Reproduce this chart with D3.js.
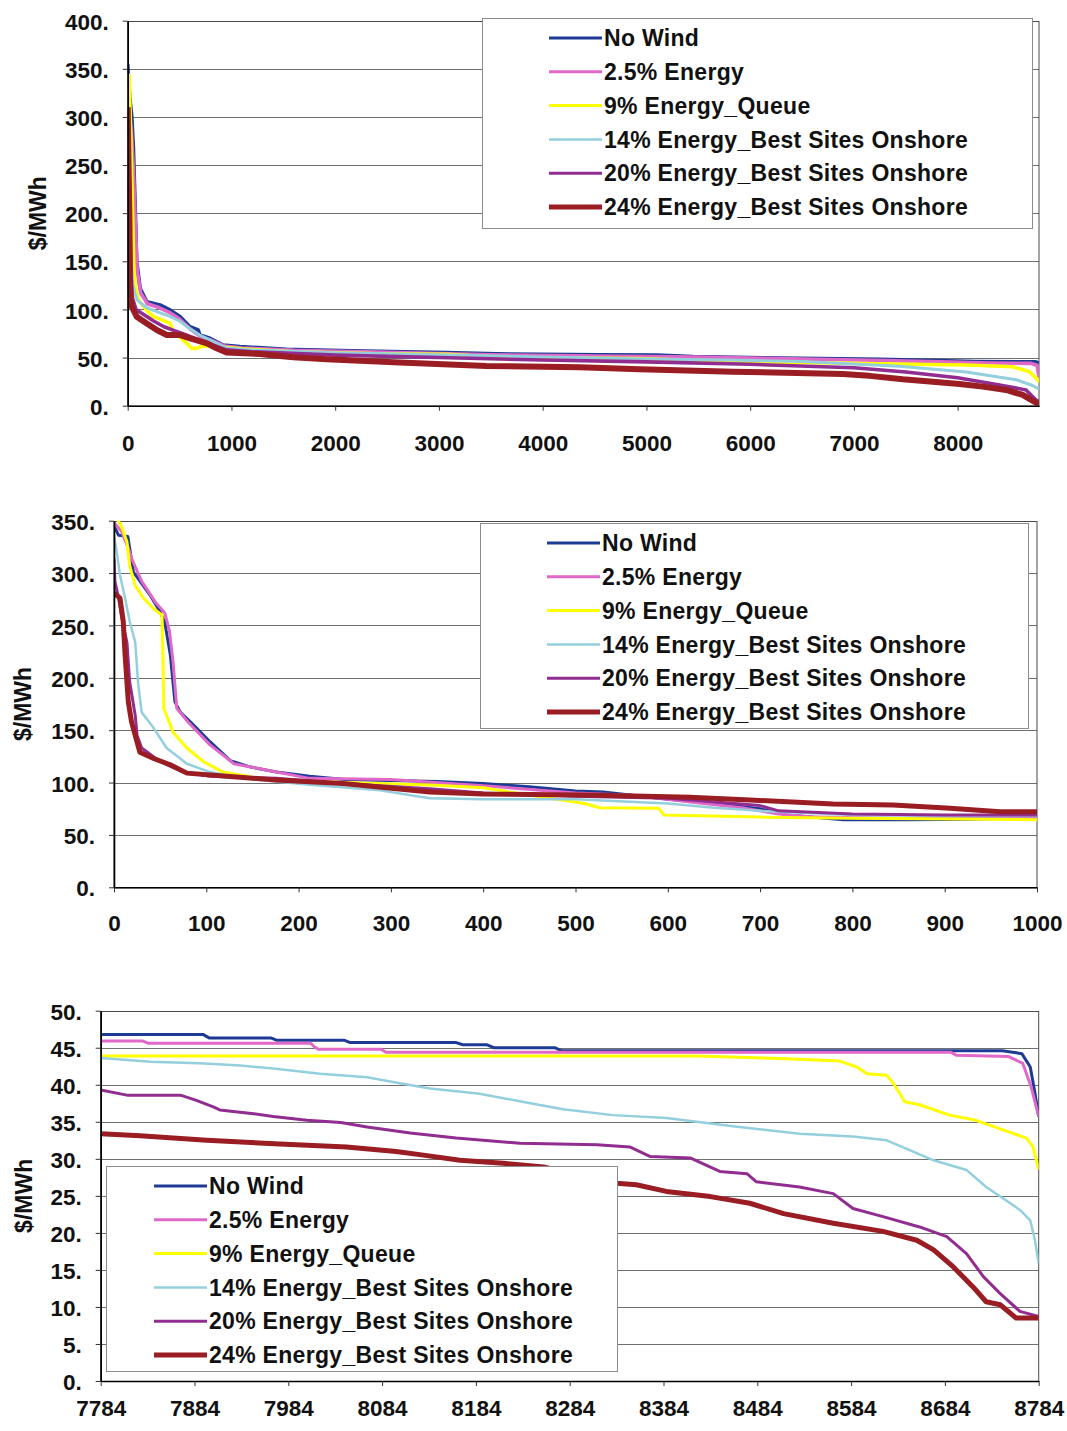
<!DOCTYPE html>
<html>
<head>
  <meta charset="utf-8">

  <script src="https://d3js.org/d3.v7.min.js"></script>

  <style media="screen">
    body {
      margin: 0;
      background: #ffffff;
    }

    svg {
      display: block;
      font-family: "Liberation Sans", Arial, sans-serif;
    }

    .tick_label, .axis_title, .legend_label {
      fill: #111111;
      font-weight: bold;
    }

    .tick_label {
      font-size: 22.5px;
    }

    .axis_title {
      font-size: 23px;
      text-anchor: middle;
    }

    .legend_label {
      font-size: 23px;
      letter-spacing: 0.3px;
      text-anchor: start;
    }

    .grid {
      stroke: #707070;
      stroke-width: 1;
    }

    .frame {
      fill: none;
      stroke: #4a4a4a;
      stroke-width: 1;
    }

    .legend_box {
      fill: #ffffff;
      stroke: #8c8c8c;
      stroke-width: 1;
    }

    .curve {
      fill: none;
      stroke-linejoin: round;
      stroke-linecap: butt;
    }
  </style>

  <title>Price duration curves</title>
</head>

<body>
  <svg></svg>

  <script type="text/javascript">
    const seriesLabels = [
      "No Wind",
      "2.5% Energy",
      "9% Energy_Queue",
      "14% Energy_Best Sites Onshore",
      "20% Energy_Best Sites Onshore",
      "24% Energy_Best Sites Onshore"
    ]

    // full year, hours 0 - 8784
    const yearHourTicks = [0, 1000, 2000, 3000, 4000, 5000, 6000, 7000, 8000]
    const yearPriceTicks = [0, 50, 100, 150, 200, 250, 300, 350, 400]

    const yearNoWind = [[0, 355], [20, 320], [40, 300], [55, 268], [70, 215], [87, 150], [120, 122], [184, 108], [311, 104.7], [408, 99.5], [504, 92.6], [600, 82], [680, 78.7], [696, 73.5], [793, 70], [921, 63], [1081, 61.4], [1531, 58.6], [2270, 56.9], [3072, 55.2], [3554, 53.8], [4549, 52.8], [5095, 52.7], [5448, 51], [6475, 49.2], [7245, 48.2], [7800, 46.8], [8176, 45.8], [8754, 45.5], [8784, 44]]
    const yearEnergy25 = [[0, 330], [15, 305], [35, 285], [55, 245], [75, 185], [92, 140], [125, 117], [190, 106], [300, 102], [400, 97], [500, 90], [600, 80], [700, 72], [800, 68], [930, 62], [1100, 60], [1600, 57.5], [2500, 55.5], [3500, 53], [4500, 51.5], [5500, 50.5], [6500, 48.5], [7300, 47], [7830, 45.6], [8300, 44.4], [8700, 44], [8765, 42], [8784, 30]]
    const yearQueue9 = [[0, 345], [13, 342], [29, 283], [48, 196], [60, 140], [75, 122], [103, 110], [184, 99], [247, 92.6], [313, 90], [407, 85.7], [440, 77], [552, 66.6], [616, 59.6], [664, 59.6], [720, 62], [900, 61], [1100, 59], [1600, 56], [2430, 53.8], [3070, 53.5], [3765, 49.4], [4549, 49.2], [4900, 49], [5833, 45.8], [6604, 44.7], [7374, 43.4], [8081, 42.3], [8531, 40.5], [8691, 35.3], [8775, 26.7], [8784, 24]]
    const yearOnshore14 = [[0, 280], [15, 230], [30, 160], [50, 125], [90, 110], [180, 102], [300, 97], [400, 93], [500, 88], [600, 80], [700, 73], [800, 68], [950, 60], [1200, 58], [2000, 55], [3000, 53], [4000, 50.5], [5000, 48.5], [5800, 47.5], [6500, 46], [7439, 41], [8081, 35], [8563, 27], [8723, 21], [8784, 17]]
    const yearOnshore20 = [[0, 300], [10, 270], [20, 200], [30, 140], [45, 112], [80, 100], [150, 95], [250, 88], [350, 82], [450, 78], [550, 74], [650, 70], [800, 64], [950, 58], [1200, 56], [2000, 52.5], [3000, 50], [4000, 47.5], [5000, 45.5], [6000, 43], [7000, 39.5], [7500, 35], [8000, 29], [8403, 21.6], [8659, 16.4], [8755, 6], [8784, 4]]
    const yearOnshore24 = [[0, 310], [8, 250], [16, 200], [23, 120], [39, 103], [87, 92.5], [184, 85.5], [281, 78.6], [377, 73.4], [506, 73.4], [603, 70], [765, 64.8], [857, 59.6], [953, 55.2], [1274, 53.8], [1595, 50.3], [1916, 48.2], [2622, 44.8], [3457, 41.3], [4356, 40], [4934, 37.8], [5833, 35.4], [6892, 33], [7150, 31], [7471, 27.4], [7760, 25], [8017, 22.6], [8242, 19.8], [8467, 16.4], [8627, 11.2], [8708, 6], [8784, 1.5]]

    // first 1000 hours
    const peakHourTicks = [0, 100, 200, 300, 400, 500, 600, 700, 800, 900, 1000]
    const peakPriceTicks = [0, 50, 100, 150, 200, 250, 300, 350]

    const peakNoWind = [[0, 345], [5, 336], [15, 335], [21, 301], [26, 295], [39, 279], [50, 263], [55, 253], [61, 222], [66, 177], [72, 167], [86, 155], [104, 139], [126, 121], [147, 115], [176, 110], [212, 106], [250, 103], [300, 102], [350, 101], [400, 99], [450, 96], [500, 92], [530, 91], [600, 84], [650, 80], [700, 75], [730, 69], [790, 64.5], [860, 64.5], [925, 65], [1000, 66.5]]
    const peakEnergy25 = [[0, 348], [8, 340], [15, 325], [20, 312], [30, 292], [45, 272], [55, 262], [60, 245], [64, 215], [68, 171], [80, 158], [104, 136], [130, 118], [165, 112], [212, 104], [300, 103], [400, 97], [500, 90], [560, 88], [620, 82], [680, 76], [720, 70], [760, 67], [850, 66], [1000, 66]]
    const peakQueue9 = [[0, 355], [7, 347], [14, 330], [17, 307], [23, 288], [32, 276], [43, 266], [52, 260], [53, 222], [54, 171], [64, 148], [79, 133], [97, 120], [118, 110], [158, 104], [212, 101], [342, 97.6], [400, 95], [450, 88], [510, 80], [526, 76], [590, 75.4], [596, 69], [700, 67], [800, 66], [1000, 64.5]]
    const peakOnshore14 = [[0, 336], [3, 320], [6.5, 298], [12, 276], [17, 254], [23, 234], [26, 196], [30, 167], [43, 152], [57, 133], [79, 118], [104, 110], [140, 104], [212, 98], [285, 93], [342, 85], [400, 84], [500, 84], [600, 80], [650, 76], [700, 73], [800, 69], [900, 68], [1000, 68]]
    const peakOnshore20 = [[0, 314], [1, 292], [5, 276], [10, 250], [14, 234], [17, 196], [23, 164], [25, 145], [30, 133], [50, 120], [75, 110], [104, 106], [176, 104], [248, 99], [342, 94], [400, 90], [500, 87], [600, 85], [700, 78], [720, 73], [800, 70], [900, 69], [1000, 69]]
    const peakOnshore24 = [[0, 281], [6.5, 276], [10, 254], [12, 222], [15.5, 177], [19, 158], [23, 145], [28, 129], [43, 123], [61, 117], [79, 109], [122, 106], [176, 102.5], [248, 99], [342, 91], [400, 89], [527, 88], [624, 86], [689, 83.4], [779, 79.5], [844, 78.6], [906, 75.4], [960, 72.2], [1000, 72.2]]

    // last 1000 hours
    const tailHourTicks = [7784, 7884, 7984, 8084, 8184, 8284, 8384, 8484, 8584, 8684, 8784]
    const tailPriceTicks = [0, 5, 10, 15, 20, 25, 30, 35, 40, 45, 50]

    const tailNoWind = [[7784, 46.8], [7893, 46.8], [7900, 46.3], [7966, 46.3], [7972, 46], [8044, 46], [8050, 45.7], [8163, 45.7], [8170, 45.4], [8196, 45.4], [8203, 45], [8268, 45], [8275, 44.6], [8745, 44.6], [8766, 44.2], [8775, 42.4], [8780, 38.9], [8784, 35.7]]
    const tailEnergy25 = [[7784, 45.9], [7829, 45.9], [7835, 45.6], [8008, 45.6], [8012, 45.1], [8016, 44.8], [8083, 44.8], [8088, 44.4], [8690, 44.4], [8696, 44], [8752, 43.8], [8767, 42.9], [8776, 39.7], [8784, 35.7]]
    const tailQueue9 = [[7784, 43.9], [8420, 43.9], [8515, 43.5], [8572, 43.2], [8590, 42.4], [8601, 41.5], [8622, 41.3], [8629, 40.2], [8638, 38.4], [8641, 37.7], [8657, 37.3], [8689, 35.9], [8717, 35.2], [8746, 33.9], [8771, 32.8], [8778, 31.6], [8784, 28.5]]
    const tailOnshore14 = [[7784, 43.6], [7837, 43.1], [7890, 42.9], [7933, 42.6], [7968, 42.2], [8018, 41.5], [8068, 41], [8103, 40.2], [8135, 39.5], [8188, 38.8], [8242, 37.5], [8277, 36.7], [8330, 35.9], [8387, 35.5], [8458, 34.4], [8529, 33.4], [8586, 33], [8622, 32.5], [8672, 29.8], [8707, 28.5], [8728, 26.2], [8743, 24.9], [8764, 23.1], [8775, 21.7], [8780, 19], [8784, 15.9]]
    const tailOnshore20 = [[7784, 39.3], [7812, 38.6], [7869, 38.6], [7886, 37.9], [7904, 37], [7911, 36.6], [7947, 36.1], [7968, 35.7], [8004, 35.2], [8040, 34.9], [8068, 34.3], [8114, 33.5], [8163, 32.8], [8231, 32.1], [8313, 31.9], [8348, 31.6], [8370, 30.3], [8413, 30.1], [8444, 28.3], [8473, 28], [8483, 26.9], [8529, 26.2], [8565, 25.3], [8586, 23.3], [8618, 22.2], [8657, 20.8], [8686, 19.5], [8707, 17.2], [8725, 14.1], [8743, 11.8], [8764, 9.4], [8784, 8.7]]
    const tailOnshore24 = [[7784, 33.4], [7826, 33.1], [7897, 32.5], [7975, 32], [8046, 31.6], [8099, 31], [8128, 30.5], [8167, 29.8], [8213, 29.4], [8256, 28.9], [8300, 27.6], [8334, 26.7], [8355, 26.5], [8387, 25.6], [8434, 24.9], [8476, 24], [8512, 22.6], [8565, 21.3], [8618, 20.2], [8654, 19], [8672, 17.7], [8693, 15.4], [8714, 12.7], [8728, 10.7], [8743, 10.3], [8760, 8.5], [8784, 8.5]]

    const seriesColors = ["#1d3b94", "#e068c8", "#ffff00", "#93cfdc", "#912d90", "#991d22"]
    const seriesWidths = [3, 3, 3, 2.5, 3, 5]

    const panels = [
      {
        series: [yearNoWind, yearEnergy25, yearQueue9, yearOnshore14, yearOnshore20, yearOnshore24],
        hourDomain: [0, 8784], hourTicks: yearHourTicks,
        priceDomain: [0, 400], priceTicks: yearPriceTicks,
        left: 127.7, right: 1039, top: 20.7, bottom: 405.7,
        labelGap: 37, titleX: 38, widthScale: 1.2,
        legend: {x: 482, y: 18, width: 550, height: 210, lineX: 549, lineLen: 53, textX: 604}
      },
      {
        series: [peakNoWind, peakEnergy25, peakQueue9, peakOnshore14, peakOnshore20, peakOnshore24],
        hourDomain: [0, 1000], hourTicks: peakHourTicks,
        priceDomain: [0, 350], priceTicks: peakPriceTicks,
        left: 114, right: 1037, top: 520.7, bottom: 887.3,
        labelGap: 36, titleX: 23, widthScale: 1,
        legend: {x: 480, y: 523, width: 548, height: 205, lineX: 547, lineLen: 53, textX: 602}
      },
      {
        series: [tailNoWind, tailEnergy25, tailQueue9, tailOnshore14, tailOnshore20, tailOnshore24],
        hourDomain: [7784, 8784], hourTicks: tailHourTicks,
        priceDomain: [0, 50], priceTicks: tailPriceTicks,
        left: 100.7, right: 1038.7, top: 1010.7, bottom: 1381,
        labelGap: 27, titleX: 24, widthScale: 1,
        legend: {x: 106, y: 1166, width: 511, height: 205, lineX: 154, lineLen: 53, textX: 209}
      }
    ]

    const svg =
      d3.select("svg")
        .attr("width", 1067)
        .attr("height", 1431)

    svg.append("rect")
      .attr("width", 1067)
      .attr("height", 1431)
      .attr("fill", "#ffffff")

    panels.forEach((p, i) => {
      const xScale = d3.scaleLinear()
                       .domain(p.hourDomain)
                       .range([p.left, p.right])

      const yScale = d3.scaleLinear()
                       .domain(p.priceDomain)
                       .range([p.bottom, p.top])

      const g = svg.append("g")

      // gridlines
      g.selectAll(".grid")
        .data(p.priceTicks.filter(d => d > p.priceDomain[0]))
        .enter()
        .append("line")
        .attr("class", "grid")
        .attr("x1", p.left)
        .attr("x2", p.right)
        .attr("y1", d => Math.round(yScale(d)) + 0.5)
        .attr("y2", d => Math.round(yScale(d)) + 0.5)

      g.append("rect")
        .attr("class", "frame")
        .attr("x", p.left)
        .attr("y", Math.round(p.top) + 0.5)
        .attr("width", p.right - p.left)
        .attr("height", p.bottom - Math.round(p.top))

      const clipId = "clip" + i
      g.append("clipPath")
        .attr("id", clipId)
        .append("rect")
        .attr("x", p.left)
        .attr("y", p.top)
        .attr("width", p.right - p.left)
        .attr("height", p.bottom - p.top)

      const line = d3.line()
                     .x(d => xScale(d[0]))
                     .y(d => yScale(d[1]))

      g.append("g")
        .attr("clip-path", "url(#" + clipId + ")")
        .selectAll(".curve")
        .data(p.series)
        .enter()
        .append("path")
        .attr("class", "curve")
        .attr("stroke", (d, k) => seriesColors[k])
        .attr("stroke-width", (d, k) => seriesWidths[k] * p.widthScale)
        .attr("d", line)

      // axes
      const xAxis = g.append("g")
        .attr("transform", "translate(0," + p.bottom + ")")
        .call(d3.axisBottom(xScale)
                .tickValues(p.hourTicks)
                .tickSize(5)
                .tickSizeOuter(0)
                .tickFormat(d3.format("d")))

      const yAxis = g.append("g")
        .attr("transform", "translate(" + p.left + ",0)")
        .call(d3.axisLeft(yScale)
                .tickValues(p.priceTicks)
                .tickSize(5)
                .tickSizeOuter(0)
                .tickFormat(d => d + "."))

      ;[xAxis, yAxis].forEach(a => {
        a.attr("font-size", null).attr("font-family", null)
        a.select(".domain").attr("stroke", "#000000").attr("stroke-width", 1.6)
        a.selectAll(".tick line").attr("stroke", "#333333")
        a.selectAll(".tick text").attr("class", "tick_label").attr("fill", null)
      })

      xAxis.selectAll(".tick text")
        .attr("y", p.labelGap)
        .attr("dy", "0.36em")

      yAxis.selectAll(".tick text")
        .attr("x", -19)
        .attr("dy", "0.38em")

      g.append("text")
        .attr("class", "axis_title")
        .attr("transform", "translate(" + p.titleX + "," + (p.top + p.bottom) / 2 + ") rotate(-90)")
        .attr("dy", "0.35em")
        .text("$/MWh")

      // legend
      const lg = p.legend
      g.append("rect")
        .attr("class", "legend_box")
        .attr("x", lg.x + 0.5)
        .attr("y", lg.y + 0.5)
        .attr("width", lg.width)
        .attr("height", lg.height)

      const rows = g.selectAll(".legend_row")
        .data(seriesLabels)
        .enter()
        .append("g")
        .attr("class", "legend_row")
        .attr("transform", (d, k) => "translate(0," + (lg.y + 20 + k * 33.8) + ")")

      rows.append("line")
        .attr("x1", lg.lineX)
        .attr("x2", lg.lineX + lg.lineLen)
        .attr("stroke", (d, k) => seriesColors[k])
        .attr("stroke-width", (d, k) => seriesWidths[k])

      rows.append("text")
        .attr("class", "legend_label")
        .attr("x", lg.textX)
        .attr("dy", "0.36em")
        .text(d => d)
    })
  </script>
</body>
</html>
